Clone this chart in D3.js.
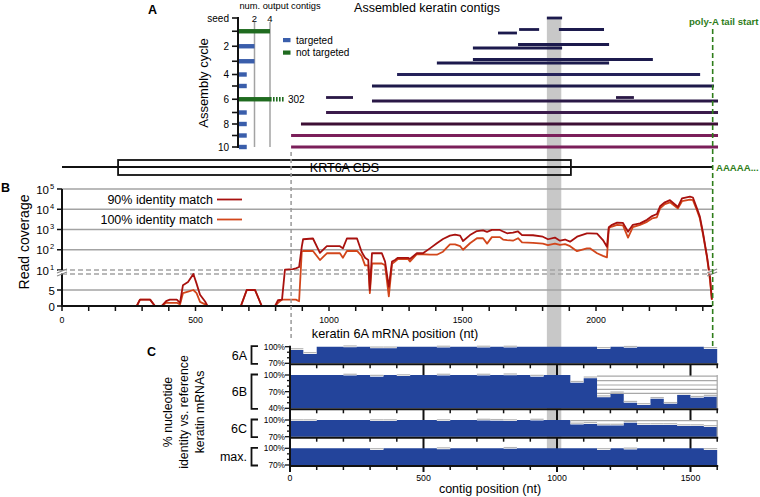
<!DOCTYPE html>
<html><head><meta charset="utf-8">
<script src="https://cdn.jsdelivr.net/npm/d3@7/dist/d3.min.js"></script>
<style>
body{margin:0;background:#fff}
svg{display:block;font-family:"Liberation Sans",Arial,Helvetica,sans-serif}
</style></head><body>
<svg id="chart" width="760" height="497"></svg>
<script>
// ================= DATA =================
// Panel A inset: assembly cycles
const cycleLabels = ["seed","","2","","4","","6","","8","","10"];
const contigCounts = [0,4,2,2,1,1,302,1,1,1,1];
const cycleTargeted = [null,false,true,true,true,true,false,true,true,true,true];
const countTicks = [2,4];
// contigs: [cycle, lane, start nt, end nt]
const contigs = [
  [0,0,1816,1873],
  [1,0,1712,1787],[1,0,1861,2030],[1,1,1633,1704],
  [2,0,1708,2049],[2,1,1539,1873],
  [3,0,1539,2213],[3,1,1404,2049],
  [4,0,1255,2390],
  [5,0,1161,2442],
  [6,0,989,1090],[6,0,2075,2142],[6,1,1161,2457],
  [7,0,989,2457],
  [8,0,895,2457],
  [9,0,858,2457],
  [10,0,858,2457]
];
const cycleColors = ["#1c1a4d","#1c1a4d","#1c1a4d","#1c1a4d","#25225a","#1e1a4a","#2a1846","#3b1b4b","#3d0f35","#7b1f5a","#7b1f5a"];
const cdsStart = 210, cdsEnd = 1906, mrnaEnd = 2435, polyAStart = 2437, contigStart = 858;
const bandStart = 1816, bandEnd = 1870;

// Panel B: read coverage (nt position, 90% identity, 100% identity)
const covPos = [0,280,292,330,348,373,390,404,430,442,453,472,492,504,517,536,545,670,692,723,748,798,809,824,835,865,876,888,898,903,940,966,992,1041,1052,1067,1105,1122,1135,1147,1153,1161,1198,1210,1224,1236,1247,1258,1296,1303,1329,1352,1378,1404,1427,1453,1472,1491,1502,1528,1554,1577,1592,1610,1640,1652,1667,1689,1708,1723,1764,1801,1820,1846,1865,1884,1903,1929,1966,1977,2004,2026,2041,2048,2060,2079,2101,2120,2138,2165,2191,2210,2228,2240,2258,2277,2288,2307,2322,2352,2363,2378,2389,2401,2416,2427,2434];
const cov90 = [0,0,2,2,0,0,1.5,2,2,1,6.5,7.5,10,7,3.5,1.4,0,0,5,5,0,0,1.8,2,10.5,11,12,14,140,330,360,70,150,150,117,360,360,80,40,31,5,67,67,26,6,26,31,40,40,35,67,67,117,208,340,500,560,500,270,530,840,900,760,950,950,800,650,700,800,530,520,440,330,400,280,320,250,440,650,650,620,300,141,1300,1700,2200,2100,780,1700,2000,3000,4600,5800,14000,22000,28000,21000,13000,34000,42000,38000,11000,4300,650,45,9,2];
const cov100 = [0,0,2,2,0,0,1,1,1,0.5,4,4.5,5,4,1.3,0.5,0,0,5,5,0,0,1,2,2,2,2,1.5,80,87,87,31,67,67,40,87,87,50,17,17,4,21,21,17,3,20,26,35,35,26,60,60,57,57,80,186,186,150,100,210,370,370,200,420,420,320,300,280,370,230,220,200,170,200,175,190,150,85,117,117,67,50,42,1200,1400,1700,1600,400,1300,1700,2400,3500,4000,11000,18000,22000,17000,11000,25000,30000,28000,9000,3500,550,40,8,2];
const logTicks = [10,100,1000,10000,100000];
const linTicks = [0,5];
const ntTickLabels = [0,500,1000,1500,2000];

// Panel C: % identity per 50-nt bin of the contig
const binSize = 50;
const ident6A = [94,87,100,100,99,100,97,97,100,100,100,98.5,100,100,98.5,100,98.5,100,100,100,100,100,100,96,100,98,100,100,100,100,100,96];
const ident6B = [100,100,100,100,99,100,97,100,98,100,100,99,100,100,99,100,99.5,100,97,100,100,86,94,60,67,50,46,57,48,64,59,61];
const ident6C = [98,98,100,100,100,100,98,98,100,100,100,98,100,100,99,98.5,98,100,99,100,100,92,93,90,90,95,91,91,91,89,89,87.5];
const identMax = [100,100,100,100,100,100,97,100,100,100,100,98.5,100,100,100,100,99,100,100,100,100,100,100,97,100,98,100,100,100,100,100,97];
const grid6B = [98,90,82,74,67];
const contigTickLabels = [0,500,1000,1500];

// ================= DRAW =================
const svg = d3.select("#chart");
const BLACK = "#111";
const GRID = "#a3a3a3";
const GREEN = "#2e7d1a";
const xNt = d3.scaleLinear().domain([0,2000]).range([62,596]);

// gray band
svg.append("rect").attr("x", xNt(bandStart)).attr("width", xNt(bandEnd)-xNt(bandStart))
  .attr("y", 17).attr("height", 449).attr("fill", "#c8c8c8");

// ---------- Panel A ----------
svg.append("text").attr("x",148).attr("y",14).attr("font-size",12.5).attr("font-weight","bold").text("A");
svg.append("text").attr("x",427).attr("y",12).attr("text-anchor","middle").attr("font-size",12.5).text("Assembled keratin contigs");

const nCycles = cycleLabels.length;
const lanes = d3.range(nCycles).map(c => (d3.max(contigs.filter(d=>d[0]===c), d=>d[1]) || 0) + 1);
const laneH = 3.5, rowGap = 8;
const rowPos = [18];
for (let i=1;i<nCycles;i++) rowPos.push(rowPos[i-1] + rowGap + laneH*(lanes[i-1]+lanes[i])/2);
const yRow = d3.scaleOrdinal().domain(d3.range(nCycles)).range(rowPos);
const xCount = d3.scaleLinear().domain([0,4]).range([239,270]);

// inset grid
countTicks.forEach(t => {
  svg.append("line").attr("x1",xCount(t)).attr("x2",xCount(t)).attr("y1",yRow(0)+4).attr("y2",yRow(10))
    .attr("stroke",GRID).attr("stroke-width",1.5);
  svg.append("text").attr("x",xCount(t)).attr("y",21.5).attr("text-anchor","middle").attr("font-size",9.5).text(t);
});
svg.append("text").attr("x",280).attr("y",8.5).attr("text-anchor","middle").attr("font-size",9.3).text("num. output contigs");
// bars
d3.range(1,nCycles).forEach(c => {
  const col = cycleTargeted[c] ? "#3a5eab" : "#1f6b1f";
  const v = Math.min(contigCounts[c], 4);
  svg.append("rect").attr("x",xCount(0)).attr("width",xCount(v)-xCount(0))
    .attr("y",yRow(c)-2.2).attr("height",4.4).attr("fill",col);
  if (contigCounts[c] > 4) {
    svg.append("line").attr("x1",xCount(4)).attr("x2",xCount(4)+14).attr("y1",yRow(c)).attr("y2",yRow(c))
      .attr("stroke",col).attr("stroke-width",4.4).attr("stroke-dasharray","1.6,1.4");
    svg.append("text").attr("x",xCount(4)+18).attr("y",yRow(c)+3.6).attr("font-size",10).text(contigCounts[c]);
  }
});
// inset axis
svg.append("line").attr("x1",238).attr("x2",238).attr("y1",yRow(0)-1).attr("y2",yRow(10)+1).attr("stroke",BLACK).attr("stroke-width",2);
d3.range(nCycles).forEach(c => {
  svg.append("line").attr("x1",232).attr("x2",238).attr("y1",yRow(c)).attr("y2",yRow(c)).attr("stroke",BLACK).attr("stroke-width",1.6);
  if (cycleLabels[c]) svg.append("text").attr("x",229).attr("y",yRow(c)+3.6).attr("text-anchor","end").attr("font-size",10).text(cycleLabels[c]);
});
svg.append("text").attr("transform",`translate(208,83) rotate(-90)`).attr("text-anchor","middle").attr("font-size",13).text("Assembly cycle");
// legend
[["targeted","#3a5eab",40],["not targeted","#1f6b1f",52.5]].forEach(([t,c,y]) => {
  svg.append("rect").attr("x",283).attr("y",y-2).attr("width",7.5).attr("height",4.2).attr("fill",c);
  svg.append("text").attr("x",296).attr("y",y+3.5).attr("font-size",10).text(t);
});
// contig lines
contigs.forEach(([c,lane,s,e]) => {
  const y = yRow(c) + (lane - (lanes[c]-1)/2)*laneH;
  svg.append("line").attr("x1",xNt(s)).attr("x2",xNt(e)).attr("y1",y).attr("y2",y)
    .attr("stroke",cycleColors[c]).attr("stroke-width",2.8);
});
svg.append("text").attr("x",689).attr("y",25).attr("font-size",9.6).attr("font-weight","bold").attr("fill",GREEN).text("poly-A tail start");

// ---------- CDS diagram ----------
svg.append("line").attr("x1",xNt(0)).attr("x2",xNt(polyAStart)).attr("y1",167).attr("y2",167).attr("stroke",BLACK).attr("stroke-width",1.8);
svg.append("rect").attr("x",xNt(cdsStart)).attr("width",xNt(cdsEnd)-xNt(cdsStart)).attr("y",160).attr("height",15)
  .attr("fill","none").attr("stroke",BLACK).attr("stroke-width",1.8);
svg.append("text").attr("x",(xNt(cdsStart)+xNt(cdsEnd))/2).attr("y",172).attr("text-anchor","middle").attr("font-size",12.5).text("KRT6A CDS");
svg.append("text").attr("x",716).attr("y",171).attr("font-size",9.6).attr("font-weight","bold").attr("fill",GREEN).text("AAAAA...");

// ---------- Panel B ----------
svg.append("text").attr("x",1).attr("y",192).attr("font-size",12.5).attr("font-weight","bold").text("B");
const yLin = d3.scaleLinear().domain([0,10]).range([306,274]);
const yLog = d3.scaleLog().domain([10,1e5]).range([270,189]);
const yCov = v => v <= 10 ? yLin(v) : yLog(v);
const xEnd = xNt(mrnaEnd);
// grid
logTicks.slice(1).forEach(t => svg.append("line").attr("x1",xNt(0)).attr("x2",xEnd).attr("y1",yLog(t)).attr("y2",yLog(t)).attr("stroke",GRID).attr("stroke-width",1.5));
svg.append("line").attr("x1",xNt(0)).attr("x2",xEnd).attr("y1",yLin(5)).attr("y2",yLin(5)).attr("stroke",GRID).attr("stroke-width",1.5);
[yLog(10), yLin(10)].forEach(y => svg.append("line").attr("x1",xNt(0)).attr("x2",xEnd).attr("y1",y).attr("y2",y)
  .attr("stroke",GRID).attr("stroke-width",1.5).attr("stroke-dasharray","5,3"));
// curves
const covData = covPos.map((p,i) => ({p, a:cov90[i], b:cov100[i]}));
svg.append("path").datum(covData).attr("fill","none").attr("stroke","#d2461b").attr("stroke-width",1.8)
  .attr("stroke-linejoin","round").attr("d", d3.line().x(d=>xNt(d.p)).y(d=>yCov(d.b)));
svg.append("path").datum(covData).attr("fill","none").attr("stroke","#a8110e").attr("stroke-width",1.8)
  .attr("stroke-linejoin","round").attr("d", d3.line().x(d=>xNt(d.p)).y(d=>yCov(d.a)));
// axes
svg.append("line").attr("x1",62).attr("x2",62).attr("y1",yLog(1e5)).attr("y2",yLin(0)).attr("stroke",BLACK).attr("stroke-width",2);
svg.append("line").attr("x1",61).attr("x2",xEnd).attr("y1",yLin(0)).attr("y2",yLin(0)).attr("stroke",BLACK).attr("stroke-width",2);
logTicks.forEach((t,i) => {
  svg.append("line").attr("x1",57).attr("x2",62).attr("y1",yLog(t)).attr("y2",yLog(t)).attr("stroke",BLACK).attr("stroke-width",1.5);
  svg.append("text").attr("x",49).attr("y",yLog(t)+4.5).attr("text-anchor","end").attr("font-size",11.5).text("10");
  svg.append("text").attr("x",50).attr("y",yLog(t)-0.5).attr("font-size",7.5).text(i+1);
});
linTicks.forEach(t => {
  svg.append("line").attr("x1",57).attr("x2",62).attr("y1",yLin(t)).attr("y2",yLin(t)).attr("stroke",BLACK).attr("stroke-width",1.5);
  svg.append("text").attr("x",55).attr("y",yLin(t)+4.5).attr("text-anchor","end").attr("font-size",11.5).text(t);
});
// axis breaks
[62, xEnd].forEach(x => {
  svg.append("rect").attr("x",x-4).attr("y",yLog(10)+0.5).attr("width",8).attr("height",yLin(10)-yLog(10)-1).attr("fill","#fff");
  [0,3].forEach(o => svg.append("line").attr("x1",x-5).attr("x2",x+5).attr("y1",yLog(10)+3+o).attr("y2",yLog(10)-1+o).attr("stroke","#888").attr("stroke-width",1.1));
});
d3.range(0, mrnaEnd, 100).forEach(t => {
  svg.append("line").attr("x1",xNt(t)).attr("x2",xNt(t)).attr("y1",yLin(0)).attr("y2",yLin(0)+5).attr("stroke",BLACK).attr("stroke-width",1.5);
});
ntTickLabels.forEach(t => svg.append("text").attr("x",xNt(t)).attr("y",322.5).attr("text-anchor","middle").attr("font-size",8.8).text(t));
svg.append("text").attr("x",395).attr("y",337.5).attr("text-anchor","middle").attr("font-size",12.7).text("keratin 6A mRNA position (nt)");
svg.append("text").attr("transform","translate(29,242) rotate(-90)").attr("text-anchor","middle").attr("font-size",14).text("Read coverage");
// legend
[["90% identity match","#a8110e",199.5],["100% identity match","#d2461b",219.5]].forEach(([t,c,y]) => {
  svg.append("text").attr("x",213).attr("y",y+4.5).attr("text-anchor","end").attr("font-size",12.5).text(t);
  svg.append("line").attr("x1",217).attr("x2",242).attr("y1",y).attr("y2",y).attr("stroke",c).attr("stroke-width",1.8);
});

// ---------- Panel C ----------
svg.append("text").attr("x",147).attr("y",356).attr("font-size",12.5).attr("font-weight","bold").text("C");
const x0c = 290;
const xC = d3.scaleLinear().domain([0,1600]).range([x0c, x0c + (xNt(1600)-xNt(0))]);
const cPanels = [
  {label:"6A", values:ident6A, min:70, top:346.7, bottom:363.3},
  {label:"6B", values:ident6B, min:40, top:375, bottom:408.3},
  {label:"6C", values:ident6C, min:70, top:420, bottom:436.7},
  {label:"max.", values:identMax, min:70, top:448.3, bottom:465}
];
const BLUE = "#23449b";
cPanels.forEach((P, pi) => {
  const y = d3.scaleLinear().domain([P.min,100]).range([P.bottom,P.top]);
  const pts = P.values.map((v,i) => [i*binSize, v]);
  pts.push([P.values.length*binSize, P.values[P.values.length-1]]);
  svg.append("path").datum(pts).attr("fill",BLUE)
    .attr("d", d3.area().curve(d3.curveStepAfter).x(d=>xC(d[0])).y0(y(P.min)).y1(d=>y(d[1])));
  P.values.forEach((v,i) => {
    if (v < 100) svg.append("line").attr("x1",xC(i*binSize)).attr("x2",xC((i+1)*binSize))
      .attr("y1",y(v)-1.3).attr("y2",y(v)-1.3).attr("stroke","#b5b5b5").attr("stroke-width",1.2);
  });
  if (P.label === "6B") {
    grid6B.forEach(g => svg.append("line").attr("x1",xC(23*binSize)).attr("x2",xC(1600)).attr("y1",y(g)).attr("y2",y(g)).attr("stroke","#a8a8a8").attr("stroke-width",1.2));
    svg.append("line").attr("x1",xC(1600)).attr("x2",xC(1600)).attr("y1",y(100)).attr("y2",y(P.min)).attr("stroke","#a8a8a8").attr("stroke-width",1.2);
  }
  if (P.label === "6C") {
    svg.append("line").attr("x1",xC(21*binSize)).attr("x2",xC(1600)).attr("y1",y(100)+0.6).attr("y2",y(100)+0.6).attr("stroke","#a8a8a8").attr("stroke-width",1.2);
    svg.append("line").attr("x1",xC(1600)).attr("x2",xC(1600)).attr("y1",y(100)).attr("y2",y(P.min)).attr("stroke","#a8a8a8").attr("stroke-width",1.2);
  }
  // left axis
  svg.append("line").attr("x1",x0c).attr("x2",x0c).attr("y1",P.top-1).attr("y2",P.bottom+1).attr("stroke",BLACK).attr("stroke-width",2);
  d3.range(P.min, 101, 10).forEach(t => {
    const lab = (t===100 || t===70 || t===40);
    svg.append("line").attr("x1",x0c-(lab?5:3)).attr("x2",x0c).attr("y1",y(t)).attr("y2",y(t)).attr("stroke",BLACK).attr("stroke-width",1.3);
    if (lab) svg.append("text").attr("x",x0c-5).attr("y",y(t)+3).attr("text-anchor","end").attr("font-size",8.3).text(t+"%");
  });
  // bracket
  svg.append("path").attr("d",`M258,${P.top-0.5}H251.5V${P.bottom+0.5}H258`).attr("fill","none").attr("stroke",BLACK).attr("stroke-width",1.8);
  svg.append("text").attr("x",247).attr("y",(P.top+P.bottom)/2+4.5).attr("text-anchor","end").attr("font-size",12.5).text(P.label);
  // bottom axis
  const next = cPanels[pi+1];
  svg.append("line").attr("x1",x0c-1).attr("x2",xC(1600)+1).attr("y1",P.bottom+1).attr("y2",P.bottom+1).attr("stroke",BLACK).attr("stroke-width",2);
  d3.range(0,1601,100).forEach(t => {
    const major = t % 500 === 0;
    const len = major ? (next ? next.top - P.bottom : 6) : 4;
    svg.append("line").attr("x1",xC(t)).attr("x2",xC(t)).attr("y1",P.bottom+1).attr("y2",P.bottom+1+len)
      .attr("stroke",BLACK).attr("stroke-width",major?2:1.5);
  });
});
contigTickLabels.forEach(t => svg.append("text").attr("x",xC(t)).attr("y",481).attr("text-anchor","middle").attr("font-size",8.8).text(t));
svg.append("text").attr("x",490).attr("y",493).attr("text-anchor","middle").attr("font-size",12.5).text("contig position (nt)");
["% nucleotide","identity vs. reference","keratin mRNAs"].forEach((t,i) => {
  svg.append("text").attr("transform",`translate(${172+i*16},412) rotate(-90)`).attr("text-anchor","middle").attr("font-size",12.3).text(t);
});

// ---------- vertical markers ----------
svg.append("line").attr("x1",xNt(contigStart)).attr("x2",xNt(contigStart)).attr("y1",152).attr("y2",340)
  .attr("stroke","#999").attr("stroke-width",1.5).attr("stroke-dasharray","4,3");
svg.append("line").attr("x1",xNt(polyAStart)).attr("x2",xNt(polyAStart)).attr("y1",29).attr("y2",346)
  .attr("stroke",GREEN).attr("stroke-width",1.6).attr("stroke-dasharray","5,3");
</script>
</body></html>
